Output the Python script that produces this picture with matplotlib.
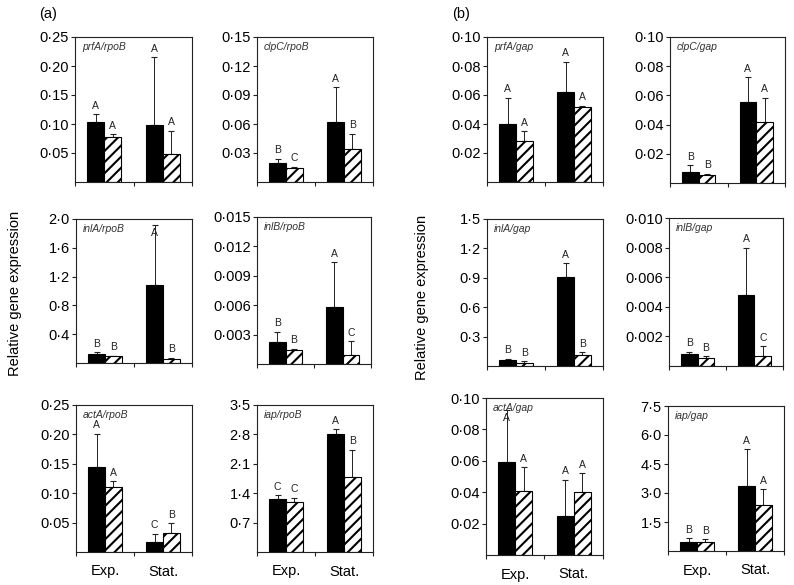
import numpy as np
import matplotlib
matplotlib.use("Agg")
import matplotlib.pyplot as plt

plt.rcParams['font.family'] = ['Liberation Sans', 'DejaVu Sans']
plt.rcParams['hatch.linewidth'] = 1.5

# ---- data, panels row by row ----
titles = ['prfA/rpoB', 'clpC/rpoB', 'prfA/gap', 'clpC/gap',
          'inlA/rpoB', 'inlB/rpoB', 'inlA/gap', 'inlB/gap',
          'actA/rpoB', 'iap/rpoB', 'actA/gap', 'iap/gap']
groups = ['Exp.', 'Stat.']

# solid bars: [Exp., Stat.]
solid_mean = [[0.104, 0.098], [0.020, 0.062], [0.040, 0.062], [0.0076, 0.0557],
              [0.12, 1.08], [0.00224, 0.00582], [0.058, 0.904], [0.00079, 0.0048],
              [0.144, 0.017], [1.257, 2.80], [0.0592, 0.0251], [0.48, 3.36]]
solid_err = [[0.013, 0.117], [0.004, 0.036], [0.018, 0.021], [0.0044, 0.0168],
             [0.033, 0.84], [0.00103, 0.00458], [0.017, 0.143], [0.00016, 0.0032],
             [0.057, 0.014], [0.093, 0.12], [0.033, 0.0228], [0.18, 1.9]]
solid_letters = [['A', 'A'], ['B', 'A'], ['A', 'A'], ['B', 'A'],
                 ['B', 'A'], ['B', 'A'], ['B', 'A'], ['B', 'A'],
                 ['A', 'C'], ['C', 'A'], ['A', 'A'], ['B', 'A']]

# hatched bars: [Exp., Stat.]
hatch_mean = [[0.077, 0.049], [0.014, 0.034], [0.028, 0.0515], [0.0058, 0.042],
              [0.097, 0.061], [0.00146, 0.00088], [0.034, 0.109], [0.00057, 0.00066],
              [0.110, 0.033], [1.19, 1.775], [0.0409, 0.040], [0.48, 2.38]]
hatch_err = [[0.005, 0.039], [0.002, 0.016], [0.007, 0.001], [0.0007, 0.0165],
             [0.005, 0.014], [0.0001, 0.00142], [0.017, 0.034], [0.0001, 0.00068],
             [0.010, 0.016], [0.10, 0.655], [0.0151, 0.0122], [0.12, 0.81]]
hatch_letters = [['A', 'A'], ['C', 'B'], ['A', 'A'], ['B', 'A'],
                 ['B', 'B'], ['B', 'C'], ['B', 'B'], ['B', 'C'],
                 ['A', 'B'], ['C', 'B'], ['A', 'A'], ['B', 'A']]

# y axis: max, step, decimals
y_max = [0.25, 0.15, 0.10, 0.10, 2.0, 0.015, 1.5, 0.010, 0.25, 3.5, 0.10, 7.5]
y_step = [0.05, 0.03, 0.02, 0.02, 0.4, 0.003, 0.3, 0.002, 0.05, 0.7, 0.02, 1.5]
y_dec = [2, 2, 2, 2, 1, 3, 1, 3, 2, 1, 2, 1]

# axes boxes in pixels (left, top, right, bottom)
boxes = [(75, 37, 192, 182), (257, 37, 373, 182), (487, 37, 603, 182), (670, 37, 785, 183),
         (76, 219, 192, 363), (257, 217, 371, 364), (487, 219, 603, 366), (669, 218, 783, 366),
         (76, 405, 192, 552), (257, 405, 373, 552), (486, 398, 603, 555), (668, 406, 784, 551)]

W, H = 794, 585
fig = plt.figure(figsize=(W / 100, H / 100), dpi=100)

bw = 0.29
x = np.array([0.5, 1.5])

for i, (l, t, r, b) in enumerate(boxes):
    ax = fig.add_axes([l / W, 1 - b / H, (r - l) / W, (b - t) / H])
    ym = y_max[i]
    xs_solid = x - bw / 2
    xs_hatch = x + bw / 2
    ax.bar(xs_solid, solid_mean[i], width=bw, color='black', edgecolor='black', linewidth=0.8, zorder=2)
    ax.bar(xs_hatch, hatch_mean[i], width=bw, color='white', edgecolor='black', linewidth=0.8,
           hatch='///', zorder=2)
    for xs, m, e in [(xs_solid, solid_mean[i], solid_err[i]), (xs_hatch, hatch_mean[i], hatch_err[i])]:
        ax.errorbar(xs, m, yerr=[np.zeros(2), e], fmt='none', ecolor='#222222',
                    elinewidth=0.7, capsize=2, capthick=0.8, zorder=1)
    for xs, m, e, lets in [(xs_solid, solid_mean[i], solid_err[i], solid_letters[i]),
                           (xs_hatch, hatch_mean[i], hatch_err[i], hatch_letters[i])]:
        for xx, mm, ee, lt in zip(xs, m, e, lets):
            top = mm + ee
            if top > 0.9 * ym:
                ax.annotate(lt, (xx, top), xytext=(0, -2), textcoords='offset points',
                            ha='center', va='top', fontsize=7.5, color='#222222')
            else:
                ax.annotate(lt, (xx, top), xytext=(0, 2.5), textcoords='offset points',
                            ha='center', va='bottom', fontsize=7.5, color='#222222')

    ax.set_xlim(0, 2)
    ax.set_ylim(0, ym)
    ticks = np.arange(1, int(round(ym / y_step[i])) + 1) * y_step[i]
    ax.set_yticks(ticks)
    ax.set_yticklabels([f'{v:.{y_dec[i]}f}'.replace('.', '\u00b7') for v in ticks], fontsize=10.5)
    ax.set_xticks([0, 1, 2])
    ax.set_xticklabels([])
    ax.tick_params(axis='both', which='major', direction='out', length=3, width=0.8, color='#222222')
    ax.tick_params(axis='y', pad=1.5)
    if i >= 8:
        ax.set_xticks(x, minor=True)
        ax.set_xticklabels(groups, minor=True, fontsize=10.5)
        ax.tick_params(axis='x', which='minor', length=0, pad=9)
    for s in ax.spines.values():
        s.set_linewidth(0.8)
        s.set_color('#222222')
    ax.text(0.06, 0.965, titles[i], transform=ax.transAxes, ha='left', va='top',
            fontsize=7.5, style='italic', color='#333333')

fig.text(15 / W, 1 - 293 / H, 'Relative gene expression', rotation=90, ha='center', va='center', fontsize=10.5)
fig.text(422 / W, 1 - 297 / H, 'Relative gene expression', rotation=90, ha='center', va='center', fontsize=10.5)
fig.text(39 / W, 1 - 14 / H, '(a)', ha='left', va='center', fontsize=10.5)
fig.text(452 / W, 1 - 14 / H, '(b)', ha='left', va='center', fontsize=10.5)

fig.savefig('out.png', dpi=100)
